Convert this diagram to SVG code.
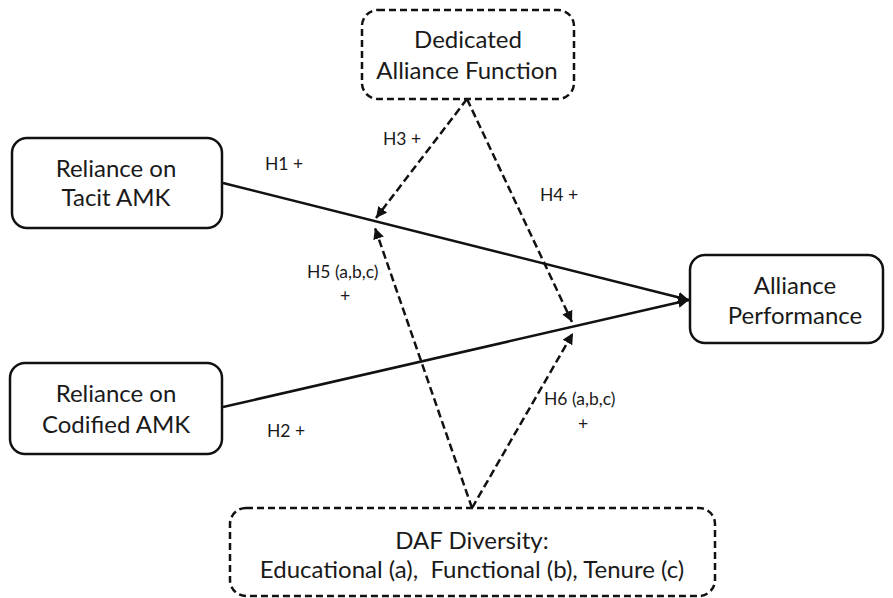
<svg xmlns="http://www.w3.org/2000/svg" width="893" height="598" viewBox="0 0 893 598">
<defs>
<marker id="ah" viewBox="0 0 10 10" refX="10" refY="5" markerWidth="4.4" markerHeight="4.4" orient="auto" markerUnits="strokeWidth">
<path d="M0,0 L10,5 L0,10 Z" fill="#111"/>
</marker>
</defs>
<style>
.box{fill:#fff;stroke:#111;stroke-width:2.5}
.dbox{fill:#fff;stroke:#111;stroke-width:2.5;stroke-dasharray:7 4}
.t{font-family:Lato,"Liberation Sans",sans-serif;font-size:24px;fill:#1a1a1a;text-anchor:middle}
.l{font-family:Lato,"Liberation Sans",sans-serif;font-size:17.5px;fill:#1a1a1a}
.solid{stroke:#111;stroke-width:2.5;fill:none}
.dash{stroke:#111;stroke-width:2.5;fill:none;stroke-dasharray:8 4}
</style>
<rect width="893" height="598" fill="#fff"/>
<g id="connectors">
<line class="solid" x1="223" y1="183" x2="689" y2="300" marker-end="url(#ah)"/>
<line class="solid" x1="223" y1="407" x2="689" y2="300" marker-end="url(#ah)"/>
<line class="dash" x1="467" y1="99" x2="376" y2="218" marker-end="url(#ah)"/>
<line class="dash" x1="467" y1="99" x2="572" y2="322" marker-end="url(#ah)"/>
<line class="dash" x1="472" y1="508" x2="375" y2="228" marker-end="url(#ah)"/>
<line class="dash" x1="472" y1="508" x2="573" y2="333" marker-end="url(#ah)"/>
<text class="l" x="265" y="170">H1 +</text>
<text class="l" x="267" y="437">H2 +</text>
<text class="l" x="383" y="145">H3 +</text>
<text class="l" x="540" y="201">H4 +</text>
<text class="l" x="307" y="278">H5 (a,b,c)</text>
<text class="l" x="345" y="302" text-anchor="middle">+</text>
<text class="l" x="544" y="405">H6 (a,b,c)</text>
<text class="l" x="583" y="430" text-anchor="middle">+</text>
</g>
<g id="daf">
<rect class="dbox" x="362" y="10" width="212" height="89" rx="16"/>
<text class="t" x="468" y="48">Dedicated</text>
<text class="t" x="467" y="79">Alliance Function</text>
</g>
<g id="tacit">
<rect class="box" x="12" y="138" width="210" height="90" rx="15"/>
<text class="t" x="116" y="177">Reliance on</text>
<text class="t" x="116" y="206">Tacit AMK</text>
</g>
<g id="codified">
<rect class="box" x="10" y="363" width="212" height="91" rx="15"/>
<text class="t" x="116" y="402">Reliance on</text>
<text class="t" x="116" y="433">Codified AMK</text>
</g>
<g id="performance">
<rect class="box" x="690" y="255" width="193" height="88" rx="15"/>
<text class="t" x="795" y="294">Alliance</text>
<text class="t" x="795" y="324">Performance</text>
</g>
<g id="diversity">
<rect class="dbox" x="230" y="508" width="485" height="88" rx="16"/>
<text class="t" x="472" y="549">DAF Diversity:</text>
<text class="t" x="472" y="578" xml:space="preserve">Educational (a),  Functional (b), Tenure (c)</text>
</g>
</svg>
